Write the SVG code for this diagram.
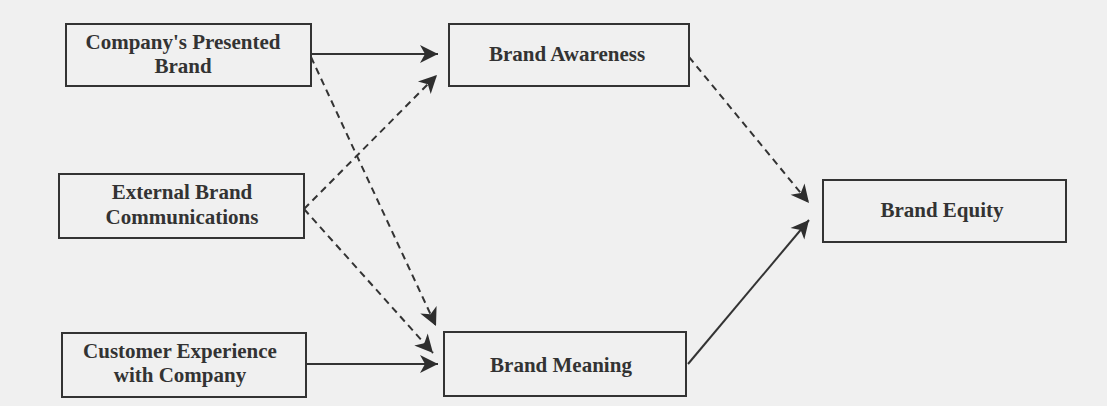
<svg xmlns="http://www.w3.org/2000/svg" width="1107" height="406" viewBox="0 0 1107 406">
  <style>
    .box { fill: none; stroke: #333; stroke-width: 2; }
    .label { font-family: "Liberation Serif", "Times New Roman", serif; font-weight: bold; font-size: 21px; fill: #333; text-anchor: middle; }
    .link { fill: none; stroke: #333; stroke-width: 2; }
    .dashed { stroke-dasharray: 7 5; }
  </style>
  <defs>
    <marker id="arrow" markerUnits="userSpaceOnUse" markerWidth="22" markerHeight="22" viewBox="-1 -11 22 22" refX="18" refY="0" orient="auto">
      <path d="M0,-9 L18,0 L0,9 L5,0 Z" fill="#2e2e2e"/>
    </marker>
  </defs>

  <rect width="1107" height="406" fill="#f0f0f0"/>

  <g id="connectors">
    <line class="link" x1="311" y1="54" x2="438" y2="54" marker-end="url(#arrow)"/>
    <line class="link dashed" x1="311" y1="57" x2="436" y2="326" marker-end="url(#arrow)"/>
    <line class="link dashed" x1="304" y1="209" x2="437" y2="75" marker-end="url(#arrow)"/>
    <line class="link dashed" x1="304" y1="209" x2="433" y2="353" marker-end="url(#arrow)"/>
    <line class="link" x1="306" y1="364" x2="438" y2="364" marker-end="url(#arrow)"/>
    <line class="link dashed" x1="689" y1="57" x2="809" y2="203" marker-end="url(#arrow)"/>
    <line class="link" x1="688" y1="364" x2="809" y2="220" marker-end="url(#arrow)"/>
  </g>

  <g id="company-presented-brand">
    <rect class="box" x="66" y="24" width="245" height="62"/>
    <text class="label" x="183" y="49">Company's Presented</text>
    <text class="label" x="183" y="73">Brand</text>
  </g>

  <g id="external-brand-communications">
    <rect class="box" x="59" y="174" width="245" height="64"/>
    <text class="label" x="182" y="199">External Brand</text>
    <text class="label" x="182" y="224">Communications</text>
  </g>

  <g id="customer-experience">
    <rect class="box" x="62" y="333" width="244" height="64"/>
    <text class="label" x="180" y="358">Customer Experience</text>
    <text class="label" x="180" y="382">with Company</text>
  </g>

  <g id="brand-awareness">
    <rect class="box" x="449" y="24" width="240" height="62"/>
    <text class="label" x="567" y="61">Brand Awareness</text>
  </g>

  <g id="brand-meaning">
    <rect class="box" x="444" y="332" width="242" height="64"/>
    <text class="label" x="561" y="372">Brand Meaning</text>
  </g>

  <g id="brand-equity">
    <rect class="box" x="823" y="180" width="243" height="62"/>
    <text class="label" x="942" y="217">Brand Equity</text>
  </g>
</svg>
